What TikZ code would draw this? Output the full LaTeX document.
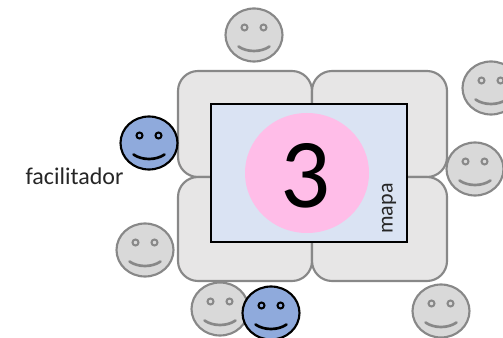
\documentclass[tikz,border=0pt]{standalone}
\usepackage{fontspec}
\setmainfont{Carlito}
\definecolor{mesaGris}{RGB}{231,230,230}
\definecolor{bordeGris}{RGB}{136,136,136}
\definecolor{caraGris}{RGB}{217,217,217}
\definecolor{caraAzul}{RGB}{143,170,220}
\definecolor{mapaAzul}{RGB}{218,227,243}
\definecolor{rosa}{RGB}{255,189,232}
\tikzset{
  mesa/.style={draw=bordeGris,fill=mesaGris,line width=1.6pt,rounded corners=15pt},
  participante/.style={cara=caraGris,linea=bordeGris,transform shape},
  facilita/.style={cara=caraAzul,linea=black,transform shape},
  cara/.style={/tikz/caraFill/.style={fill=#1}},
  linea/.style={/tikz/caraDraw/.style={draw=#1}},
  pics/carita/.style={code={
    \draw [caraFill,caraDraw,line width=1.6pt] (0,0) ellipse (28.5 and 26.5);
    \draw [caraDraw,line width=1.5pt] (-9.5,-7.5) circle (3) (9.5,-7.5) circle (3);
    \draw [caraDraw,line width=2pt,line cap=round] (-15.5,11.5) .. controls (-7,17.5) and (7,17.5) .. (15.5,11.5);
  }}
}
\begin{document}
\begin{tikzpicture}[x=0.75pt,y=0.75pt,yscale=-1,xscale=1]
\clip (0,0) rectangle (503,338);

%Mesas
\draw [mesa] (178,71) rectangle (312,177);
\draw [mesa] (312,71) rectangle (447,177);
\draw [mesa] (178,177) rectangle (312,281);
\draw [mesa] (312,177) rectangle (447,281);
%Mapa
\draw [fill=mapaAzul,line width=1.6pt] (211,104) rectangle (407,242);
\fill [rosa] (307,173) ellipse (62 and 60);

%Caritas grises
\pic [participante] at (254,35) {carita};
\pic [participante] at (491,88) {carita};
\pic [participante] at (475,169) {carita};
\pic [participante] at (441,311) {carita};
\pic [participante] at (145,250) {carita};
\pic [participante] at (220,309) {carita};
%Caritas azules
\pic [facilita] at (149,143) {carita};
\pic [facilita] at (271,313) {carita};

% Text Node
\node (numero) at (305.5,175.5) [inner sep=0.75pt] {\fontsize{74}{88}\selectfont 3};
% Text Node
\node (mapa) at (389,208.5) [inner sep=0.75pt,rotate=90,text=black!85] {\fontsize{16.5}{20}\selectfont mapa};
% Text Node
\node (facilitador) at (74.5,176) [inner sep=0.75pt,text=black!85] {\fontsize{18}{22}\selectfont facilitador};

\end{tikzpicture}
\end{document}
